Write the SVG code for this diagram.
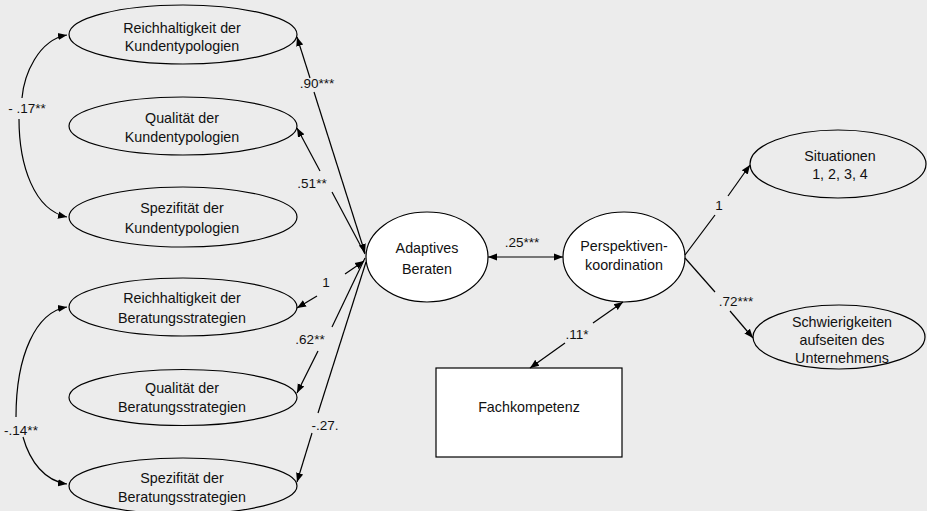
<svg xmlns="http://www.w3.org/2000/svg" width="927" height="511" viewBox="0 0 927 511">
  <defs>
    <marker id="head" viewBox="0 0 10 10" refX="10" refY="5" markerWidth="9" markerHeight="9" markerUnits="userSpaceOnUse" orient="auto-start-reverse">
      <path d="M0,1 L10,5 L0,9 Z" fill="#000"/>
    </marker>
    <style>
      .bg { fill: #ececec; }
      .node { stroke: #000; stroke-width: 1.2; }
      .grey { fill: #ececec; }
      .white { fill: #fff; }
      .lbl { font-family: "Liberation Sans", Arial, sans-serif; font-size: 14.3px; fill: #111; text-anchor: middle; }
      .coef { font-family: "Liberation Sans", Arial, sans-serif; font-size: 13.5px; fill: #111; text-anchor: middle; }
      .edge { fill: none; stroke: #000; stroke-width: 1.2; }
      .fwd { marker-end: url(#head); }
      .back { marker-start: url(#head); }
    </style>
  </defs>

  <rect class="bg" x="0" y="0" width="927" height="511"/>

  <!-- indicator factors, customer typologies -->
  <g id="reich-kunden">
    <ellipse class="node grey" cx="183" cy="34.5" rx="114" ry="29.5"/>
    <text class="lbl" x="182" y="33">Reichhaltigkeit der</text>
    <text class="lbl" x="182" y="51">Kundentypologien</text>
  </g>
  <g id="qual-kunden">
    <ellipse class="node grey" cx="183" cy="126" rx="114" ry="29"/>
    <text class="lbl" x="182" y="123">Qualität der</text>
    <text class="lbl" x="182" y="142">Kundentypologien</text>
  </g>
  <g id="spez-kunden">
    <ellipse class="node grey" cx="183" cy="217" rx="114" ry="30"/>
    <text class="lbl" x="182" y="213">Spezifität der</text>
    <text class="lbl" x="182" y="233">Kundentypologien</text>
  </g>

  <!-- indicator factors, consulting strategies -->
  <g id="reich-beratung">
    <ellipse class="node grey" cx="183" cy="307" rx="114" ry="29"/>
    <text class="lbl" x="182" y="303">Reichhaltigkeit der</text>
    <text class="lbl" x="182" y="323">Beratungsstrategien</text>
  </g>
  <g id="qual-beratung">
    <ellipse class="node grey" cx="183" cy="397.5" rx="114" ry="28"/>
    <text class="lbl" x="182" y="393">Qualität der</text>
    <text class="lbl" x="182" y="412">Beratungsstrategien</text>
  </g>
  <g id="spez-beratung">
    <ellipse class="node grey" cx="183" cy="486" rx="114" ry="28"/>
    <text class="lbl" x="182" y="483">Spezifität der</text>
    <text class="lbl" x="182" y="502">Beratungsstrategien</text>
  </g>

  <!-- latent factors -->
  <g id="adaptiv">
    <ellipse class="node white" cx="427" cy="257" rx="61" ry="45"/>
    <text class="lbl" x="427" y="253">Adaptives</text>
    <text class="lbl" x="427" y="274">Beraten</text>
  </g>
  <g id="perspektive">
    <ellipse class="node white" cx="624" cy="257" rx="61" ry="45"/>
    <text class="lbl" x="624" y="251">Perspektiven-</text>
    <text class="lbl" x="624" y="270">koordination</text>
  </g>
  <g id="fachkompetenz">
    <rect class="node white" x="436" y="368" width="186" height="89"/>
    <text class="lbl" x="529" y="412">Fachkompetenz</text>
  </g>

  <!-- outcome indicators -->
  <g id="situationen">
    <ellipse class="node grey" cx="838" cy="164" rx="88" ry="34"/>
    <text class="lbl" x="840" y="161">Situationen</text>
    <text class="lbl" x="840" y="179">1, 2, 3, 4</text>
  </g>
  <g id="schwierigkeiten">
    <ellipse class="node grey" cx="839" cy="337" rx="86" ry="32"/>
    <text class="lbl" x="842" y="327">Schwierigkeiten</text>
    <text class="lbl" x="842" y="345">aufseiten des</text>
    <text class="lbl" x="842" y="363">Unternehmens</text>
  </g>

  <!-- connectors -->
  <g id="connectors">
    <!-- covariance, customer typologies -->
    <path class="edge back" d="M67,35 C38,40 24,75 22,98"/>
    <path class="edge fwd" d="M19,119 C19,165 34,210 67,217"/>
    <text class="coef" x="27" y="113">- .17**</text>

    <!-- covariance, consulting strategies -->
    <path class="edge back" d="M67,307 C36,312 16,355 16,417"/>
    <path class="edge fwd" d="M23,437 C30,462 45,481 67,484"/>
    <text class="coef" x="21" y="435">-.14**</text>

    <!-- loadings on Adaptives Beraten -->
    <path class="edge back" d="M297,37 L310,78"/>
    <path class="edge fwd" d="M314,92 L365,253"/>
    <text class="coef" x="317" y="88">.90***</text>

    <path class="edge back" d="M297,128 L320,171"/>
    <path class="edge" d="M332,192 L365,254"/>
    <text class="coef" x="312" y="188">.51**</text>

    <path class="edge back" d="M297,308 L317,296"/>
    <path class="edge fwd" d="M345,274 L364,261"/>
    <text class="coef" x="326" y="287">1</text>

    <path class="edge back" d="M297,393 L318,351"/>
    <path class="edge" d="M332,327 L365,258"/>
    <text class="coef" x="310" y="344">.62**</text>

    <path class="edge back" d="M297,482 L312,433"/>
    <path class="edge" d="M318,413 L366,262"/>
    <text class="coef" x="325" y="430">-.27.</text>

    <!-- structural paths -->
    <path class="edge fwd back" d="M488,257 L563,257"/>
    <text class="coef" x="522" y="247">.25***</text>

    <path class="edge back" d="M530,368 L565,343"/>
    <path class="edge fwd" d="M593,323 L623,302"/>
    <text class="coef" x="577" y="339">.11*</text>

    <!-- loadings on Perspektivenkoordination -->
    <path class="edge" d="M685,255 L715,215"/>
    <path class="edge fwd" d="M728,196 L750,165"/>
    <text class="coef" x="719" y="210">1</text>

    <path class="edge" d="M685,258 L715,292"/>
    <path class="edge fwd" d="M730,311 L753,338"/>
    <text class="coef" x="736" y="306">.72***</text>
  </g>
</svg>
